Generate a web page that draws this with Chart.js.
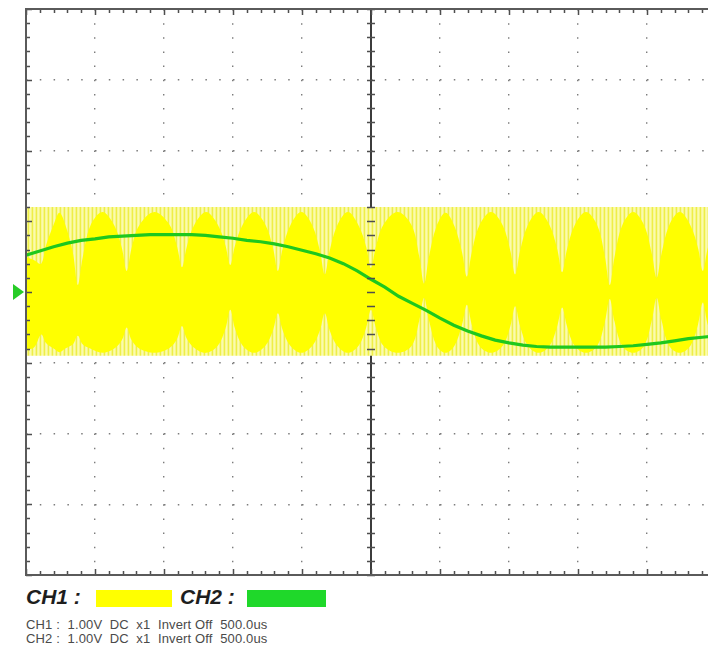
<!DOCTYPE html>
<html>
<head>
<meta charset="utf-8">
<title>CH1 / CH2</title>
<script src="https://cdn.jsdelivr.net/npm/chart.js@4/dist/chart.umd.min.js"></script>
<style>
  html, body { margin: 0; padding: 0; background: #fff; overflow: hidden; }
  body { width: 708px; height: 652px; position: relative; font-family: "Liberation Sans", Arial, sans-serif; }
  #scope { position: absolute; left: 0; top: 0; }
  .legend { position: absolute; left: 26px; top: 586px; height: 22px; }
  .legend span { position: absolute; top: 0; white-space: nowrap; }
  .ch { font-size: 21px; font-weight: bold; font-style: italic; color: #1e1e1e; line-height: 22px; }
  .sw { height: 17px; top: 4px !important; }
  .info { position: absolute; left: 26px; top: 618px; font-size: 13px; line-height: 13.5px; letter-spacing: 0.15px; color: #4a4a4a; white-space: pre; }
</style>
</head>
<body>
<canvas id="scope" width="720" height="580"></canvas>
<div class="legend">
  <span class="ch" style="left:0">CH1 :</span>
  <span class="sw" style="left:70px;width:76px;background:#ffff00"></span>
  <span class="ch" style="left:154px">CH2 :</span>
  <span class="sw" style="left:221px;width:79px;background:#1fd82a"></span>
</div>
<div class="info">CH1 :  1.00V  DC  x1  Invert Off  500.0us
CH2 :  1.00V  DC  x1  Invert Off  500.0us</div>
<script>
(function () {
    'use strict';

    /* ---- screen layout: 10 x 8 divisions, 1.00V/div ---- */
    var DIV_X = 10;
    var DIV_Y = 4;

    /* ---- CH1: switching band limits (V) ---- */
    var ch1High = 1.20;
    var ch1Low = -0.90;

    /* ---- CH1: envelope of the dense switching bursts (div / V) ---- */
    var envX = [
        0.00, 0.12,
        0.22, 0.29, 0.40, 0.485, 0.57, 0.68,
        0.75, 0.82, 0.93, 1.105, 1.28, 1.39,
        1.46, 1.53, 1.64, 1.86, 2.08, 2.19,
        2.26, 2.33, 2.44, 2.61, 2.78, 2.89,
        2.96, 3.03, 3.14, 3.305, 3.47, 3.58,
        3.65, 3.72, 3.83, 3.99, 4.15, 4.26,
        4.33, 4.40, 4.51, 4.665, 4.82, 4.93,
        5.00, 5.07, 5.18, 5.385, 5.59, 5.70,
        5.77, 5.84, 5.95, 6.08, 6.21, 6.32,
        6.39, 6.46, 6.57, 6.74, 6.91, 7.02,
        7.09, 7.16, 7.27, 7.43, 7.59, 7.70,
        7.77, 7.84, 7.95, 8.115, 8.28, 8.39,
        8.46, 8.53, 8.64, 8.80, 8.96, 9.07,
        9.14, 9.21, 9.32, 9.475, 9.63, 9.74,
        9.81, 9.88, 10.0
    ];
    var envTop = [
        0.50, 0.45,
        0.40, 0.66, 0.95, 1.12, 0.95, 0.55,
        0.10, 0.48, 0.93, 1.13, 0.94, 0.62,
        0.30, 0.62, 0.94, 1.13, 0.95, 0.64,
        0.35, 0.64, 0.95, 1.13, 0.95, 0.66,
        0.38, 0.66, 0.95, 1.13, 0.95, 0.62,
        0.30, 0.62, 0.94, 1.13, 0.94, 0.58,
        0.25, 0.58, 0.94, 1.13, 0.94, 0.64,
        0.34, 0.64, 0.95, 1.13, 0.94, 0.50,
        0.12, 0.50, 0.93, 1.12, 0.93, 0.56,
        0.22, 0.56, 0.94, 1.13, 0.94, 0.58,
        0.25, 0.58, 0.94, 1.13, 0.94, 0.60,
        0.28, 0.60, 0.94, 1.13, 0.94, 0.50,
        0.10, 0.50, 0.94, 1.13, 0.94, 0.54,
        0.20, 0.54, 0.94, 1.13, 0.94, 0.62,
        0.30, 0.62, 0.98
    ];
    var envBot = [
        -0.82, -0.78,
        -0.60, -0.72, -0.80, -0.85, -0.80, -0.74,
        -0.62, -0.74, -0.80, -0.86, -0.80, -0.68,
        -0.50, -0.68, -0.80, -0.86, -0.79, -0.66,
        -0.48, -0.66, -0.79, -0.86, -0.76, -0.52,
        -0.25, -0.52, -0.76, -0.86, -0.76, -0.54,
        -0.30, -0.54, -0.76, -0.86, -0.76, -0.54,
        -0.30, -0.54, -0.76, -0.86, -0.76, -0.50,
        -0.25, -0.50, -0.76, -0.86, -0.76, -0.40,
        -0.08, -0.40, -0.76, -0.86, -0.76, -0.46,
        -0.18, -0.46, -0.76, -0.86, -0.76, -0.48,
        -0.20, -0.48, -0.76, -0.86, -0.76, -0.48,
        -0.22, -0.48, -0.76, -0.86, -0.76, -0.42,
        -0.10, -0.42, -0.76, -0.86, -0.76, -0.40,
        -0.08, -0.40, -0.76, -0.86, -0.76, -0.46,
        -0.15, -0.46, -0.78
    ];

    /* ---- CH2: sampled trace (div / V) ---- */
    var ch2X = [
        0.0, 0.2, 0.4, 0.6, 0.8, 1.0, 1.2, 1.4, 1.6, 1.8,
        2.0, 2.2, 2.4, 2.6, 2.8, 3.0, 3.2, 3.4, 3.6, 3.8,
        4.0, 4.2, 4.4, 4.6, 4.8, 5.0, 5.2, 5.4, 5.6, 5.8,
        6.0, 6.2, 6.4, 6.6, 6.8, 7.0, 7.2, 7.4, 7.6, 7.8,
        8.0, 8.2, 8.4, 8.6, 8.8, 9.0, 9.2, 9.4, 9.6, 9.8,
        10.0
    ];
    var ch2V = [
        0.52, 0.58, 0.64, 0.69, 0.73, 0.75, 0.78, 0.79, 0.80, 0.81,
        0.81, 0.81, 0.81, 0.80, 0.78, 0.76, 0.73, 0.71, 0.68, 0.64,
        0.59, 0.54, 0.48, 0.40, 0.30, 0.18, 0.07, -0.06, -0.16, -0.26,
        -0.37, -0.47, -0.55, -0.62, -0.68, -0.72, -0.75, -0.77, -0.78, -0.78,
        -0.78, -0.78, -0.78, -0.77, -0.76, -0.74, -0.72, -0.69, -0.66, -0.64,
        -0.62
    ];

    var colors = {
        ch1: '#ffff00',
        ch2: '#1ec81e',
        frame: '#4e4e4e',
        dots: '#7c7c7c'
    };

    function points(xs, ys) {
        return xs.map(function (x, i) { return { x: x, y: ys[i] }; });
    }

    /* fine vertical striping of the band between bursts */
    function stripePattern() {
        var c = document.createElement('canvas');
        c.width = 4;
        c.height = 4;
        var g = c.getContext('2d');
        var cols = ['#eeee48', '#f8f896', '#fbfbae', '#f6f684'];
        cols.forEach(function (col, i) {
            g.fillStyle = col;
            g.fillRect(i, 0, 1, 4);
        });
        return g.createPattern(c, 'repeat');
    }

    /* frame, centre graticule line, ticks and CH2 ground marker */
    var graticule = {
        id: 'graticule',
        beforeDatasetsDraw: function (chart) {
            var ctx = chart.ctx;
            var a = chart.chartArea;
            var cx = Math.round(chart.scales.x.getPixelForValue(DIV_X / 2));
            ctx.save();
            ctx.strokeStyle = '#3c3c3c';
            ctx.lineWidth = 2;
            ctx.beginPath();
            ctx.moveTo(cx, a.top);
            ctx.lineTo(cx, a.bottom);
            ctx.stroke();
            ctx.restore();
        },
        afterDatasetsDraw: function (chart) {
            var ctx = chart.ctx;
            var a = chart.chartArea;
            var xs = chart.scales.x;
            var ys = chart.scales.y;
            var cx = Math.round(xs.getPixelForValue(DIV_X / 2));
            var i, p, len;

            ctx.save();
            ctx.strokeStyle = colors.frame;
            ctx.lineWidth = 1.5;
            ctx.beginPath();
            for (i = 0; i <= DIV_X * 5; i++) {
                p = Math.round(xs.getPixelForValue(i / 5)) + 0.5;
                len = (i % 5 === 0) ? 6 : 4;
                ctx.moveTo(p, a.top);
                ctx.lineTo(p, a.top + len);
                ctx.moveTo(p, a.bottom);
                ctx.lineTo(p, a.bottom - len);
            }
            for (i = -DIV_Y * 5; i <= DIV_Y * 5; i++) {
                p = Math.round(ys.getPixelForValue(i / 5)) + 0.5;
                len = (i % 5 === 0) ? 6 : 4;
                ctx.moveTo(a.left, p);
                ctx.lineTo(a.left + len, p);
                ctx.moveTo(cx - 4, p);
                ctx.lineTo(cx + 4, p);
            }
            ctx.stroke();

            ctx.lineWidth = 2;
            ctx.strokeStyle = '#5a5a5a';
            ctx.strokeRect(a.left, a.top, a.right - a.left, a.bottom - a.top);
            ctx.restore();
        },
        afterDraw: function (chart) {
            var ctx = chart.ctx;
            var y0 = chart.scales.y.getPixelForValue(0);
            var x1 = chart.chartArea.left - 2;
            ctx.save();
            ctx.fillStyle = '#27cc27';
            ctx.beginPath();
            ctx.moveTo(x1 - 11, y0 - 8);
            ctx.lineTo(x1, y0);
            ctx.lineTo(x1 - 11, y0 + 8);
            ctx.closePath();
            ctx.fill();
            ctx.restore();
        }
    };

    function initScope() {
        if (typeof Chart === 'undefined') return;
        var canvas = document.getElementById('scope');

        new Chart(canvas.getContext('2d'), {
            type: 'line',
            data: {
                datasets: [
                    {
                        label: 'CH2',
                        data: points(ch2X, ch2V),
                        borderColor: colors.ch2,
                        borderWidth: 3.2,
                        pointRadius: 0,
                        fill: false,
                        order: 0
                    },
                    {
                        label: 'CH1 envelope high',
                        data: points(envX, envTop),
                        borderWidth: 0,
                        borderColor: colors.ch1,
                        backgroundColor: colors.ch1,
                        pointRadius: 0,
                        tension: 0.35,
                        fill: '+1',
                        order: 1
                    },
                    {
                        label: 'CH1 envelope low',
                        data: points(envX, envBot),
                        borderWidth: 0,
                        borderColor: colors.ch1,
                        pointRadius: 0,
                        tension: 0.35,
                        fill: false,
                        order: 1
                    },
                    {
                        label: 'CH1 band',
                        data: [{ x: 0, y: ch1High }, { x: DIV_X, y: ch1High }],
                        borderWidth: 0,
                        backgroundColor: stripePattern(),
                        pointRadius: 0,
                        fill: { value: ch1Low },
                        order: 3
                    }
                ]
            },
            options: {
                responsive: false,
                animation: false,
                events: [],
                layout: { padding: { left: 26, top: 9, right: 4, bottom: 5 } },
                plugins: {
                    legend: { display: false },
                    tooltip: { enabled: false }
                },
                scales: {
                    x: {
                        type: 'linear',
                        min: 0,
                        max: DIV_X,
                        z: 1,
                        ticks: { display: false, stepSize: 1 },
                        grid: { color: colors.dots, lineWidth: 1.4, drawTicks: false },
                        border: { display: false, dash: [1.5, 12.65] }
                    },
                    y: {
                        type: 'linear',
                        min: -DIV_Y,
                        max: DIV_Y,
                        z: 1,
                        ticks: { display: false, stepSize: 1 },
                        grid: { color: colors.dots, lineWidth: 1.4, drawTicks: false },
                        border: { display: false, dash: [1.5, 12.3] }
                    }
                }
            },
            plugins: [graticule]
        });
    }

    initScope();
})();
</script>
</body>
</html>
